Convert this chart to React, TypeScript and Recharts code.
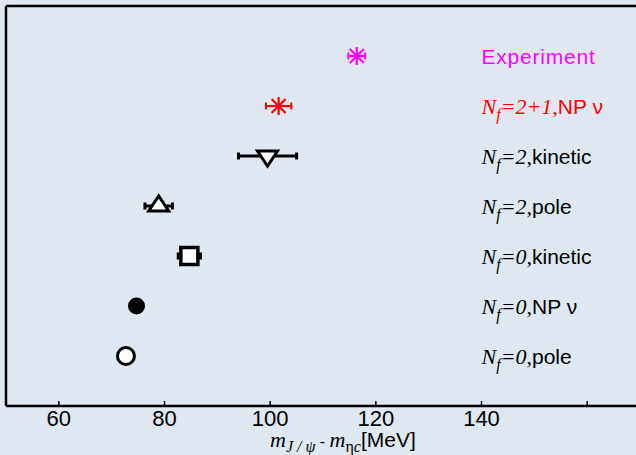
import React from 'react';
import { ScatterChart, Scatter, XAxis, YAxis, ErrorBar } from 'recharts';

// mass splitting per determination (MeV)
const splitValues = [116.4, 101.6, 99.5, 78.9, 84.7, 74.7, 72.7];
const splitErrors = [1.6, 2.4, 5.5, 2.6, 2.1, 0, 0];
const rowIndex = [7, 6, 5, 4, 3, 2, 1];
const nfLabels = ['', '2+1', '2', '2', '0', '0', '0'];
const methodLabels = ['Experiment', 'NP ν', 'kinetic', 'pole', 'kinetic', 'NP ν', 'pole'];
const markerKinds = ['asterisk', 'asterisk', 'triDown', 'triUp', 'square', 'dot', 'circle'];
const seriesColors = ['#ff00ff', '#ff0000', '#000', '#000', '#000', '#000', '#000'];
const xTicks = [60, 80, 100, 120, 140, 160];

const LABEL_X = 140;
const SERIF = '"Liberation Serif", "DejaVu Serif", serif';
const SANS = '"Liberation Sans", Arial, sans-serif';

const makeMarker = (kind: string, color: string) => (props: any) => {
  const { cx, cy } = props;
  if (cx == null || cy == null) return null;
  switch (kind) {
    case 'asterisk':
      return (
        <g stroke={color} strokeWidth={2.2}>
          <line x1={cx - 9} y1={cy} x2={cx + 9} y2={cy} />
          <line x1={cx} y1={cy - 9} x2={cx} y2={cy + 9} />
          <line x1={cx - 7} y1={cy - 7} x2={cx + 7} y2={cy + 7} />
          <line x1={cx - 7} y1={cy + 7} x2={cx + 7} y2={cy - 7} />
        </g>
      );
    case 'triDown':
      return (
        <polygon
          points={`${cx - 10},${cy - 5} ${cx + 10},${cy - 5} ${cx},${cy + 10}`}
          fill="#fff" stroke="#000" strokeWidth={3} strokeLinejoin="miter"
        />
      );
    case 'triUp':
      return (
        <polygon
          points={`${cx - 10},${cy + 5} ${cx + 10},${cy + 5} ${cx},${cy - 10}`}
          fill="#fff" stroke="#000" strokeWidth={3} strokeLinejoin="miter"
        />
      );
    case 'square':
      return <rect x={cx - 8.5} y={cy - 8.5} width={17} height={17} fill="#fff" stroke="#000" strokeWidth={3.5} />;
    case 'dot':
      return <circle cx={cx} cy={cy} r={8.5} fill="#000" />;
    default:
      return <circle cx={cx} cy={cy} r={8.5} fill="#fff" stroke="#000" strokeWidth={3} />;
  }
};

const RowLabel = (props: any) => {
  const { cx, cy, payload } = props;
  if (cx == null) return null;
  const y = cy + 7.5;
  if (!payload.nf) {
    return (
      <text x={cx} y={y} fill={payload.color} fontFamily={SANS} fontSize={21} letterSpacing={0.8}>
        {payload.method}
      </text>
    );
  }
  return (
    <text x={cx} y={y} fill={payload.color} fontFamily={SERIF} fontStyle="italic" fontSize={22} style={{ whiteSpace: 'pre' }}>
      <tspan>N</tspan>
      <tspan fontSize={16} dy={6}>f</tspan>
      <tspan dy={-6}>{`=${payload.nf},`}</tspan>
      <tspan fontFamily={SANS} fontStyle="normal" fontSize={21}>{payload.method}</tspan>
    </text>
  );
};

const AxisTitle = (props: any) => {
  const vb = props.viewBox || { x: 6, y: 406 };
  const x = vb.x + 264;
  const y = vb.y + 41;
  return (
    <text x={x} y={y} fill="#000" fontFamily={SERIF} fontStyle="italic" fontSize={22} style={{ whiteSpace: 'pre' }}>
      <tspan>m</tspan>
      <tspan fontSize={16} dy={5}>J / ψ</tspan>
      <tspan dy={-5} fontFamily={SANS} fontStyle="normal" fontSize={16}> - </tspan>
      <tspan>m</tspan>
      <tspan fontSize={16} dy={5} fontStyle="normal">η</tspan>
      <tspan fontSize={16}>c</tspan>
      <tspan dy={-5} fontFamily={SANS} fontStyle="normal" fontSize={21}>[MeV]</tspan>
    </text>
  );
};

export default function App() {
  const series = splitValues.map((v, i) => ({
    data: [{ x: v, y: rowIndex[i], err: splitErrors[i] }],
    kind: markerKinds[i],
    color: seriesColors[i],
  }));
  const labelData = rowIndex.map((r, i) => ({
    x: LABEL_X,
    y: r,
    nf: nfLabels[i],
    method: methodLabels[i],
    color: seriesColors[i],
  }));

  return (
    <div
      style={{
        position: 'absolute',
        left: 0,
        top: 0,
        width: 636,
        height: 455,
        overflow: 'hidden',
        background: '#dfe8f1',
      }}
    >
      <ScatterChart width={642} height={455} margin={{ top: 5, right: 2, left: 5, bottom: 0 }}>
        <XAxis
          type="number"
          dataKey="x"
          domain={[50, 170]}
          allowDataOverflow
          ticks={xTicks}
          tickFormatter={(v: number) => (v === 160 ? '' : String(v))}
          height={49}
          axisLine={{ stroke: '#000', strokeWidth: 2.5 }}
          tickLine={{ stroke: '#000', strokeWidth: 1.5 }}
          tickSize={-5}
          tickMargin={9}
          tick={{ fill: '#000', fontSize: 22, fontFamily: SANS }}
          label={<AxisTitle />}
        />
        <XAxis
          xAxisId="top"
          orientation="top"
          type="number"
          domain={[50, 170]}
          allowDataOverflow
          ticks={xTicks}
          height={1}
          tick={false}
          axisLine={{ stroke: '#000', strokeWidth: 2.5 }}
          tickLine={{ stroke: '#000', strokeWidth: 1.5 }}
          tickSize={-5}
        />
        <YAxis
          type="number"
          dataKey="y"
          domain={[0, 8]}
          allowDataOverflow
          width={1}
          tick={false}
          tickLine={false}
          axisLine={{ stroke: '#000', strokeWidth: 2.5 }}
        />
        {series.map((s, i) => (
          <Scatter key={i} data={s.data} shape={makeMarker(s.kind, s.color)} isAnimationActive={false}>
            {s.data[0].err > 0 && (
              <ErrorBar
                dataKey="err"
                direction="x"
                stroke={s.color}
                strokeWidth={s.color === '#000' ? 3 : 2}
                width={3.5}
                isAnimationActive={false}
              />
            )}
          </Scatter>
        ))}
        <Scatter data={labelData} shape={RowLabel} isAnimationActive={false} />
      </ScatterChart>
    </div>
  );
}
